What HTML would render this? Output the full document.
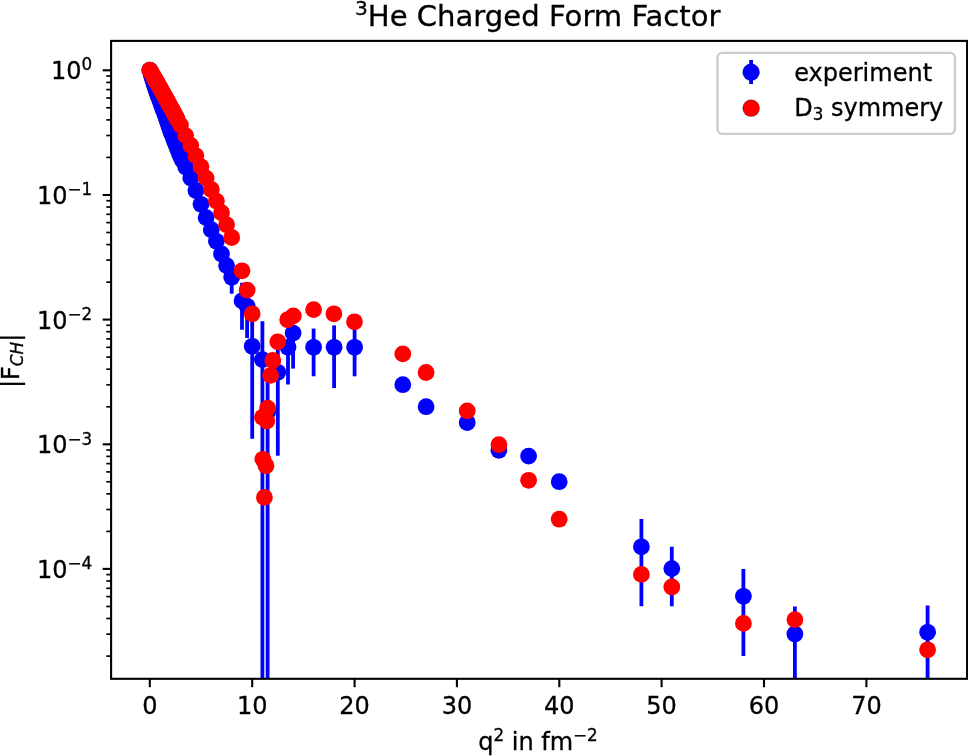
<!DOCTYPE html>
<html lang="en"><head><meta charset="utf-8"><title>3He Charged Form Factor</title>
<style>html,body{margin:0;padding:0;background:#fff}body{width:968px;height:756px;overflow:hidden}</style></head>
<body>
<svg width="968" height="756" viewBox="0 0 968 756" style="display:block">
<rect width="968" height="756" fill="#fff"/>
<defs><clipPath id="ax"><rect x="111.1" y="40.9" width="856.0" height="637.9"/></clipPath></defs>
<g clip-path="url(#ax)"><g transform="translate(0,0.3)">
<g stroke="#0000ff" stroke-width="3.8" fill="none">
<line x1="231.7" y1="277.0" x2="231.7" y2="293.4"/>
<line x1="242.0" y1="282.4" x2="242.0" y2="329.4"/>
<line x1="247.1" y1="306.0" x2="247.1" y2="337.8"/>
<line x1="252.2" y1="313.0" x2="252.2" y2="438.5"/>
<line x1="262.4" y1="321.0" x2="262.4" y2="678.8"/>
<line x1="267.6" y1="378.0" x2="267.6" y2="678.8"/>
<line x1="277.8" y1="340.0" x2="277.8" y2="455.4"/>
<line x1="288.0" y1="347.0" x2="288.0" y2="384.2"/>
<line x1="293.1" y1="332.8" x2="293.1" y2="368.3"/>
<line x1="313.6" y1="328.3" x2="313.6" y2="376.0"/>
<line x1="334.1" y1="325.1" x2="334.1" y2="387.8"/>
<line x1="354.6" y1="328.0" x2="354.6" y2="376.0"/>
<line x1="641.4" y1="518.8" x2="641.4" y2="606.0"/>
<line x1="671.8" y1="546.5" x2="671.8" y2="606.0"/>
<line x1="743.4" y1="568.6" x2="743.4" y2="655.8"/>
<line x1="794.9" y1="606.3" x2="794.9" y2="678.8"/>
<line x1="927.6" y1="605.2" x2="927.6" y2="678.8"/>
</g><g fill="#0000ff">
<circle cx="149.8" cy="69.9" r="8.4"/>
<circle cx="150.9" cy="73.3" r="8.4"/>
<circle cx="151.9" cy="76.6" r="8.4"/>
<circle cx="152.9" cy="80.0" r="8.4"/>
<circle cx="153.9" cy="83.3" r="8.4"/>
<circle cx="155.0" cy="86.7" r="8.4"/>
<circle cx="156.0" cy="89.5" r="8.4"/>
<circle cx="157.0" cy="92.3" r="8.4"/>
<circle cx="158.0" cy="95.1" r="8.4"/>
<circle cx="159.1" cy="97.9" r="8.4"/>
<circle cx="160.1" cy="100.7" r="8.4"/>
<circle cx="161.1" cy="103.5" r="8.4"/>
<circle cx="162.1" cy="106.3" r="8.4"/>
<circle cx="163.1" cy="109.1" r="8.4"/>
<circle cx="164.2" cy="112.0" r="8.4"/>
<circle cx="165.2" cy="114.8" r="8.4"/>
<circle cx="166.2" cy="117.7" r="8.4"/>
<circle cx="167.2" cy="120.6" r="8.4"/>
<circle cx="168.3" cy="123.6" r="8.4"/>
<circle cx="169.3" cy="126.6" r="8.4"/>
<circle cx="170.3" cy="129.6" r="8.4"/>
<circle cx="171.3" cy="132.4" r="8.4"/>
<circle cx="172.4" cy="135.0" r="8.4"/>
<circle cx="173.4" cy="137.7" r="8.4"/>
<circle cx="174.4" cy="140.3" r="8.4"/>
<circle cx="175.4" cy="143.0" r="8.4"/>
<circle cx="176.5" cy="145.5" r="8.4"/>
<circle cx="177.5" cy="148.1" r="8.4"/>
<circle cx="178.5" cy="150.6" r="8.4"/>
<circle cx="179.5" cy="153.2" r="8.4"/>
<circle cx="180.5" cy="155.7" r="8.4"/>
<circle cx="181.6" cy="157.9" r="8.4"/>
<circle cx="182.6" cy="160.1" r="8.4"/>
<circle cx="185.7" cy="166.8" r="8.4"/>
<circle cx="190.8" cy="177.8" r="8.4"/>
<circle cx="195.9" cy="190.2" r="8.4"/>
<circle cx="201.0" cy="204.0" r="8.4"/>
<circle cx="206.1" cy="217.3" r="8.4"/>
<circle cx="211.3" cy="229.4" r="8.4"/>
<circle cx="216.4" cy="241.0" r="8.4"/>
<circle cx="221.5" cy="253.7" r="8.4"/>
<circle cx="226.6" cy="265.3" r="8.4"/>
<circle cx="231.7" cy="277.0" r="8.4"/>
<circle cx="242.0" cy="300.5" r="8.4"/>
<circle cx="247.1" cy="306.0" r="8.4"/>
<circle cx="252.2" cy="346.0" r="8.4"/>
<circle cx="262.4" cy="359.3" r="8.4"/>
<circle cx="267.6" cy="412.0" r="8.4"/>
<circle cx="277.8" cy="372.0" r="8.4"/>
<circle cx="288.0" cy="347.0" r="8.4"/>
<circle cx="293.1" cy="332.8" r="8.4"/>
<circle cx="313.6" cy="347.0" r="8.4"/>
<circle cx="334.1" cy="347.0" r="8.4"/>
<circle cx="354.6" cy="347.0" r="8.4"/>
<circle cx="402.8" cy="384.4" r="8.4"/>
<circle cx="426.1" cy="406.4" r="8.4"/>
<circle cx="467.2" cy="422.2" r="8.4"/>
<circle cx="498.9" cy="450.0" r="8.4"/>
<circle cx="528.6" cy="455.8" r="8.4"/>
<circle cx="559.2" cy="481.4" r="8.4"/>
<circle cx="641.4" cy="546.5" r="8.4"/>
<circle cx="671.8" cy="568.3" r="8.4"/>
<circle cx="743.4" cy="596.0" r="8.4"/>
<circle cx="794.9" cy="633.7" r="8.4"/>
<circle cx="927.6" cy="632.0" r="8.4"/>
</g><g fill="#ff0000">
<circle cx="149.8" cy="69.9" r="8.4"/>
<circle cx="150.9" cy="71.6" r="8.4"/>
<circle cx="151.9" cy="73.4" r="8.4"/>
<circle cx="152.9" cy="75.2" r="8.4"/>
<circle cx="153.9" cy="76.9" r="8.4"/>
<circle cx="155.0" cy="78.7" r="8.4"/>
<circle cx="156.0" cy="80.5" r="8.4"/>
<circle cx="157.0" cy="82.2" r="8.4"/>
<circle cx="158.0" cy="84.0" r="8.4"/>
<circle cx="159.1" cy="85.8" r="8.4"/>
<circle cx="160.1" cy="87.6" r="8.4"/>
<circle cx="161.1" cy="89.4" r="8.4"/>
<circle cx="162.1" cy="91.3" r="8.4"/>
<circle cx="163.1" cy="93.1" r="8.4"/>
<circle cx="164.2" cy="94.9" r="8.4"/>
<circle cx="165.2" cy="96.7" r="8.4"/>
<circle cx="166.2" cy="98.6" r="8.4"/>
<circle cx="167.2" cy="100.4" r="8.4"/>
<circle cx="168.3" cy="102.3" r="8.4"/>
<circle cx="169.3" cy="104.2" r="8.4"/>
<circle cx="170.3" cy="106.1" r="8.4"/>
<circle cx="171.3" cy="107.9" r="8.4"/>
<circle cx="172.4" cy="109.8" r="8.4"/>
<circle cx="173.4" cy="111.7" r="8.4"/>
<circle cx="174.4" cy="113.6" r="8.4"/>
<circle cx="175.4" cy="115.6" r="8.4"/>
<circle cx="176.5" cy="117.5" r="8.4"/>
<circle cx="177.5" cy="119.4" r="8.4"/>
<circle cx="180.5" cy="124.8" r="8.4"/>
<circle cx="185.7" cy="135.3" r="8.4"/>
<circle cx="190.8" cy="145.2" r="8.4"/>
<circle cx="195.9" cy="155.5" r="8.4"/>
<circle cx="201.0" cy="166.5" r="8.4"/>
<circle cx="206.1" cy="177.8" r="8.4"/>
<circle cx="211.3" cy="189.2" r="8.4"/>
<circle cx="216.4" cy="200.8" r="8.4"/>
<circle cx="221.5" cy="212.4" r="8.4"/>
<circle cx="226.6" cy="224.5" r="8.4"/>
<circle cx="231.7" cy="237.2" r="8.4"/>
<circle cx="242.0" cy="270.5" r="8.4"/>
<circle cx="247.1" cy="289.8" r="8.4"/>
<circle cx="252.2" cy="313.5" r="8.4"/>
<circle cx="262.5" cy="417.0" r="8.4"/>
<circle cx="266.8" cy="420.8" r="8.4"/>
<circle cx="262.9" cy="459.0" r="8.4"/>
<circle cx="266.0" cy="465.4" r="8.4"/>
<circle cx="264.4" cy="497.1" r="8.4"/>
<circle cx="267.6" cy="407.8" r="8.4"/>
<circle cx="270.6" cy="375.1" r="8.4"/>
<circle cx="272.8" cy="360.1" r="8.4"/>
<circle cx="277.8" cy="341.5" r="8.4"/>
<circle cx="287.7" cy="319.4" r="8.4"/>
<circle cx="293.3" cy="315.6" r="8.4"/>
<circle cx="313.6" cy="309.3" r="8.4"/>
<circle cx="333.9" cy="313.5" r="8.4"/>
<circle cx="354.5" cy="321.5" r="8.4"/>
<circle cx="402.8" cy="353.6" r="8.4"/>
<circle cx="426.1" cy="372.2" r="8.4"/>
<circle cx="467.2" cy="410.6" r="8.4"/>
<circle cx="498.9" cy="444.4" r="8.4"/>
<circle cx="528.6" cy="480.0" r="8.4"/>
<circle cx="559.2" cy="518.9" r="8.4"/>
<circle cx="641.4" cy="574.1" r="8.4"/>
<circle cx="671.8" cy="586.7" r="8.4"/>
<circle cx="743.4" cy="623.1" r="8.4"/>
<circle cx="794.9" cy="619.3" r="8.4"/>
<circle cx="927.6" cy="649.5" r="8.4"/>
</g></g></g>
<g stroke="#000" stroke-width="2.1" fill="none">
<line x1="149.8" y1="678.8" x2="149.8" y2="687.2"/>
<line x1="252.2" y1="678.8" x2="252.2" y2="687.2"/>
<line x1="354.6" y1="678.8" x2="354.6" y2="687.2"/>
<line x1="456.9" y1="678.8" x2="456.9" y2="687.2"/>
<line x1="559.3" y1="678.8" x2="559.3" y2="687.2"/>
<line x1="661.6" y1="678.8" x2="661.6" y2="687.2"/>
<line x1="764.0" y1="678.8" x2="764.0" y2="687.2"/>
<line x1="866.4" y1="678.8" x2="866.4" y2="687.2"/>
<line x1="111.1" y1="70.3" x2="102.7" y2="70.3"/>
<line x1="111.1" y1="195.0" x2="102.7" y2="195.0"/>
<line x1="111.1" y1="319.6" x2="102.7" y2="319.6"/>
<line x1="111.1" y1="444.3" x2="102.7" y2="444.3"/>
<line x1="111.1" y1="568.9" x2="102.7" y2="568.9"/>
</g>
<g stroke="#000" stroke-width="1.7" fill="none">
<line x1="111.1" y1="157.4" x2="106.3" y2="157.4"/>
<line x1="111.1" y1="135.5" x2="106.3" y2="135.5"/>
<line x1="111.1" y1="119.9" x2="106.3" y2="119.9"/>
<line x1="111.1" y1="107.8" x2="106.3" y2="107.8"/>
<line x1="111.1" y1="98.0" x2="106.3" y2="98.0"/>
<line x1="111.1" y1="89.6" x2="106.3" y2="89.6"/>
<line x1="111.1" y1="82.4" x2="106.3" y2="82.4"/>
<line x1="111.1" y1="76.0" x2="106.3" y2="76.0"/>
<line x1="111.1" y1="282.1" x2="106.3" y2="282.1"/>
<line x1="111.1" y1="260.1" x2="106.3" y2="260.1"/>
<line x1="111.1" y1="244.6" x2="106.3" y2="244.6"/>
<line x1="111.1" y1="232.5" x2="106.3" y2="232.5"/>
<line x1="111.1" y1="222.6" x2="106.3" y2="222.6"/>
<line x1="111.1" y1="214.3" x2="106.3" y2="214.3"/>
<line x1="111.1" y1="207.0" x2="106.3" y2="207.0"/>
<line x1="111.1" y1="200.7" x2="106.3" y2="200.7"/>
<line x1="111.1" y1="406.8" x2="106.3" y2="406.8"/>
<line x1="111.1" y1="384.8" x2="106.3" y2="384.8"/>
<line x1="111.1" y1="369.2" x2="106.3" y2="369.2"/>
<line x1="111.1" y1="357.1" x2="106.3" y2="357.1"/>
<line x1="111.1" y1="347.3" x2="106.3" y2="347.3"/>
<line x1="111.1" y1="338.9" x2="106.3" y2="338.9"/>
<line x1="111.1" y1="331.7" x2="106.3" y2="331.7"/>
<line x1="111.1" y1="325.3" x2="106.3" y2="325.3"/>
<line x1="111.1" y1="531.4" x2="106.3" y2="531.4"/>
<line x1="111.1" y1="509.5" x2="106.3" y2="509.5"/>
<line x1="111.1" y1="493.9" x2="106.3" y2="493.9"/>
<line x1="111.1" y1="481.8" x2="106.3" y2="481.8"/>
<line x1="111.1" y1="471.9" x2="106.3" y2="471.9"/>
<line x1="111.1" y1="463.6" x2="106.3" y2="463.6"/>
<line x1="111.1" y1="456.4" x2="106.3" y2="456.4"/>
<line x1="111.1" y1="450.0" x2="106.3" y2="450.0"/>
<line x1="111.1" y1="656.1" x2="106.3" y2="656.1"/>
<line x1="111.1" y1="634.1" x2="106.3" y2="634.1"/>
<line x1="111.1" y1="618.5" x2="106.3" y2="618.5"/>
<line x1="111.1" y1="606.5" x2="106.3" y2="606.5"/>
<line x1="111.1" y1="596.6" x2="106.3" y2="596.6"/>
<line x1="111.1" y1="588.3" x2="106.3" y2="588.3"/>
<line x1="111.1" y1="581.0" x2="106.3" y2="581.0"/>
<line x1="111.1" y1="574.6" x2="106.3" y2="574.6"/>
</g>
<rect x="111.1" y="40.9" width="856.0" height="637.9" fill="none" stroke="#000" stroke-width="2.1"/>
<g font-family="'DejaVu Sans', 'Liberation Sans', sans-serif" font-size="24" fill="#000" stroke="#000" stroke-width="0.3">
<text x="149.8" y="713.7" text-anchor="middle">0</text>
<text x="252.2" y="713.7" text-anchor="middle">10</text>
<text x="354.6" y="713.7" text-anchor="middle">20</text>
<text x="456.9" y="713.7" text-anchor="middle">30</text>
<text x="559.3" y="713.7" text-anchor="middle">40</text>
<text x="661.6" y="713.7" text-anchor="middle">50</text>
<text x="764.0" y="713.7" text-anchor="middle">60</text>
<text x="866.4" y="713.7" text-anchor="middle">70</text>
<text x="92.3" y="79.0" text-anchor="end">10<tspan font-size="16.8" dy="-9.2">0</tspan></text>
<text x="92.3" y="204.0" text-anchor="end">10<tspan font-size="16.8" dy="-8.8">−1</tspan></text>
<text x="92.3" y="328.6" text-anchor="end">10<tspan font-size="16.8" dy="-8.8">−2</tspan></text>
<text x="92.3" y="453.3" text-anchor="end">10<tspan font-size="16.8" dy="-8.8">−3</tspan></text>
<text x="92.3" y="577.9" text-anchor="end">10<tspan font-size="16.8" dy="-8.8">−4</tspan></text>
<text x="538.0" y="749.8" text-anchor="middle">q<tspan font-size="16.8" dy="-8.6">2</tspan><tspan dy="8.6"> in fm</tspan><tspan font-size="16.8" dy="-8.6">−2</tspan></text>
<text transform="translate(19.2,360.9) rotate(-90)" text-anchor="middle">|F<tspan font-size="16.8" dy="4.2" font-style="oblique">CH</tspan><tspan dy="-4.2">|</tspan></text>
<text x="537.7" y="25.6" font-size="29.1" text-anchor="middle"><tspan font-size="20.2" dy="-10.5">3</tspan><tspan dy="10.5">He Charged Form Factor</tspan></text>
<rect x="717.5" y="52.9" width="237.4" height="81" rx="4.8" ry="4.8" fill="#fff" fill-opacity="0.8" stroke="#cccccc" stroke-width="2.4"/>
<line x1="751.1" y1="60" x2="751.1" y2="84" stroke="#0000ff" stroke-width="3.8"/>
<circle cx="751.1" cy="72.2" r="8.4" fill="#0000ff"/>
<circle cx="751.1" cy="108.2" r="8.4" fill="#ff0000"/>
<text x="794.2" y="80.8">experiment</text>
<text x="794.2" y="115.8">D<tspan font-size="16.8" dy="4.2">3</tspan><tspan dy="-4.2"> symmery</tspan></text>
</g></svg>
</body></html>
